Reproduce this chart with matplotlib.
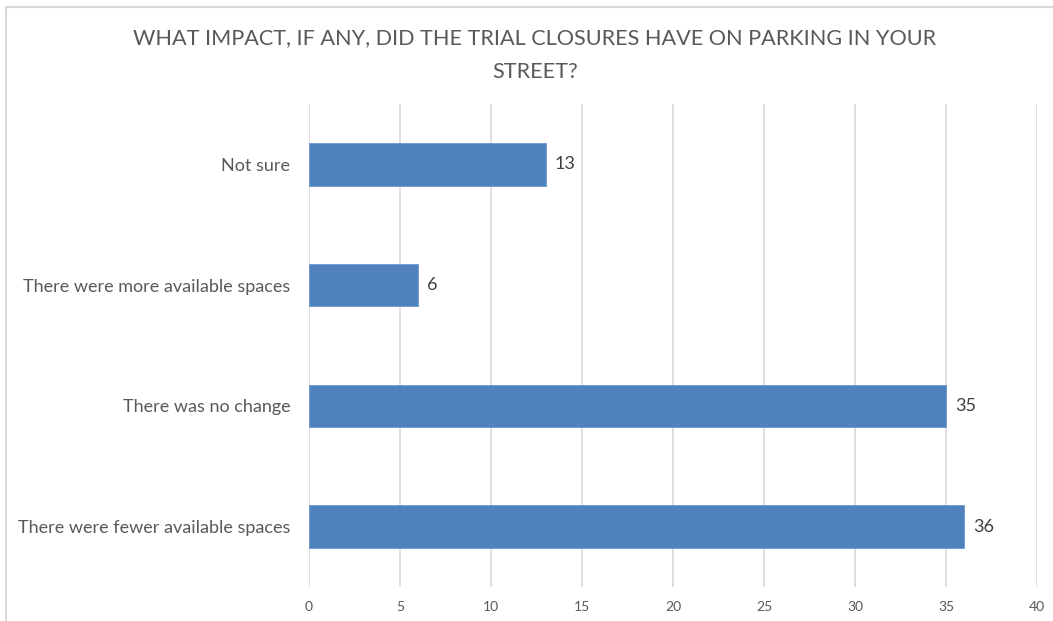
import matplotlib
matplotlib.use("Agg")
import matplotlib.pyplot as plt
from matplotlib.lines import Line2D

# survey answers, bottom to top
answers = ["There were fewer available spaces", "There was no change",
           "There were more available spaces", "Not sure"]
counts = [36, 35, 6, 13]
xticks = [0, 5, 10, 15, 20, 25, 30, 35, 40]

plt.rcParams['font.family'] = ['Lato', 'DejaVu Sans']

fig = plt.figure(figsize=(10.53, 6.21), dpi=100)
ax = fig.add_axes([0.2934, 0.0548, 0.6914, 0.7777])

ypos = range(len(answers))
ax.barh(ypos, counts, height=0.35, color="#4F81BD", edgecolor="#6E98CC",
        linewidth=0.6, zorder=3)
for y, v in zip(ypos, counts):
    ax.text(v + 0.5, y, str(v), va="center", ha="left", fontsize=13,
            color="#404040")

ax.set_xlim(0, 40)
ax.set_ylim(-0.5, len(answers) - 0.5)
ax.set_xticks(xticks)
ax.set_yticks(list(ypos))
ax.set_yticklabels(answers)
ax.tick_params(axis="both", length=0, colors="#595959")
ax.tick_params(axis="y", labelsize=13, pad=13.5)
ax.tick_params(axis="x", labelsize=10, pad=10)
ax.grid(axis="x", color="#D9D9D9", linewidth=1.2, zorder=0)
for s in ax.spines.values():
    s.set_visible(False)

fig.text(0.508, 0.938, "WHAT IMPACT, IF ANY, DID THE TRIAL CLOSURES HAVE ON PARKING IN YOUR",
         ha="center", va="center", fontsize=15.6, color="#595959")
fig.text(0.508, 0.884, "STREET?", ha="center", va="center", fontsize=15.6,
         color="#595959")

# chart frame (only top and left edges are visible)
fig.add_artist(Line2D([0.0057, 0.0057], [0, 0.989], transform=fig.transFigure,
                      color="#D9D9D9", linewidth=1.5))
fig.add_artist(Line2D([0.0057, 1], [0.989, 0.989], transform=fig.transFigure,
                      color="#D9D9D9", linewidth=1.5))

fig.savefig("out.png", dpi=100)
